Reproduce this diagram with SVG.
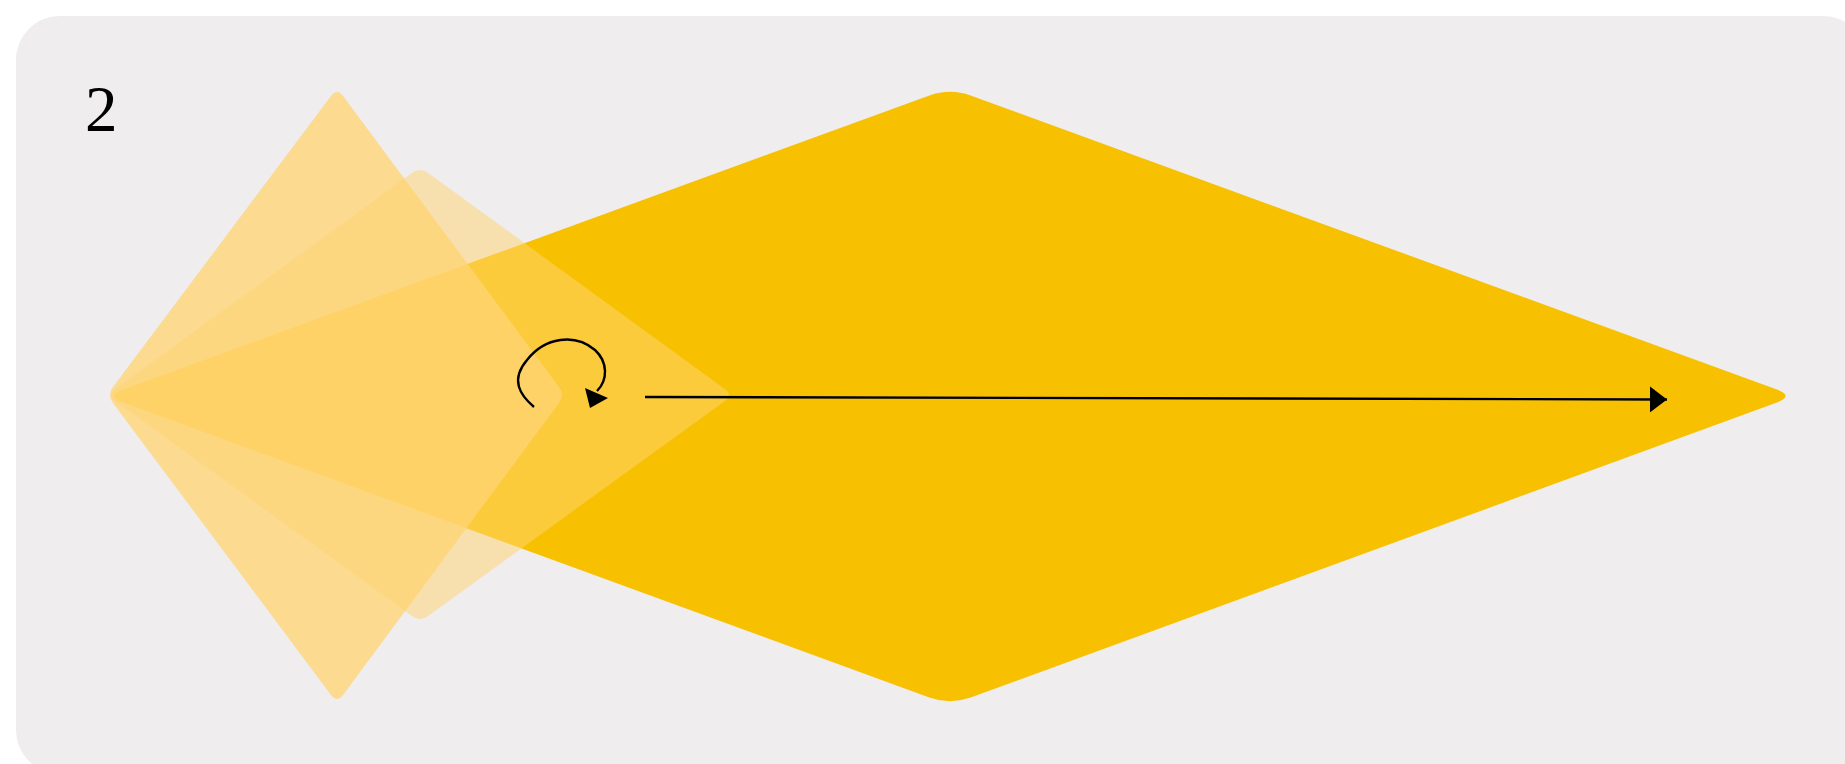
<svg xmlns="http://www.w3.org/2000/svg" width="1845" height="764" viewBox="0 0 1845 764">
<style>
.bg{fill:#efedee}
.shape{fill:#ffd473}
.light{opacity:0.77}
.pale{opacity:0.52}
.main{fill:#f7c000}
.conn{fill:none;stroke:#000;stroke-width:2.4}
.label{font-family:"Liberation Serif","Times New Roman",serif;font-size:65px;fill:#000}
</style>
<defs>
<marker id="arrow" markerUnits="userSpaceOnUse" markerWidth="20" markerHeight="26" refX="17" refY="13" orient="auto">
<path d="M0,0 L17,13 L0,26 Z" fill="#000"/>
</marker>
</defs>
<rect x="0" y="0" width="1845" height="764" fill="#ffffff"/>
<rect class="bg" x="16" y="16" width="1851" height="758" rx="44" ry="44"/>
<g id="label-2"><text class="label" x="85" y="131">2</text></g>
<g id="node-main">
<path class="main" d="M123.8,389.2 Q105,396 123.8,402.8 L929.4,697.6 Q950,705 970.6,697.6 L1776.2,402.8 Q1795,396 1776.2,389.2 L970.6,95.5 Q950,88 929.4,95.5 Z"/>
</g>
<g id="node-pale">
<path class="shape pale" d="M115.1,389.1 Q107,395 115.1,400.9 L411.9,616.1 Q420,622 428.1,616.1 L724.9,400.9 Q733,395 724.9,389.1 L428.1,172.9 Q420,167 411.9,172.9 Z"/>
</g>
<g id="node-light">
<path class="shape light" d="M113,387 Q107,395 113,403 L331,695 Q337,703 343,695 L559,403 Q565,395 559,387 L343,96 Q337,88 331,96 Z"/>
</g>
<g id="connectors">
<path class="conn" d="M534,407 C520,395 510,380 527,360 C545,337 575,333 595,350 C608,362 608,380 597,391"/>
<polygon points="585,388 608,398 590,408" fill="#000"/>
<line class="conn" x1="645" y1="397" x2="1667" y2="399.5" marker-end="url(#arrow)"/>
</g>
</svg>
